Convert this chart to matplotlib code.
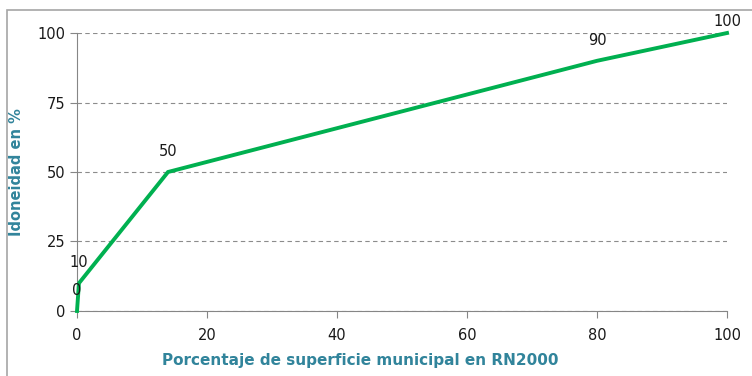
import matplotlib
matplotlib.use("Agg")
import matplotlib.pyplot as plt
from matplotlib.patches import Rectangle

# porcentaje de superficie municipal en RN2000 -> idoneidad (%)
pct_surface = [0, 0.3, 14, 80, 100]
suitability = [0, 10, 50, 90, 100]
point_labels = ["0", "10", "50", "90", "100"]
x_ticks = [0, 20, 40, 60, 80, 100]
y_ticks = [0, 25, 50, 75, 100]

GREEN = "#00b050"
TEAL = "#31849b"
GREY = "#868686"

fig = plt.figure(figsize=(7.52, 3.76), dpi=100)
ax = fig.add_axes([0.1024, 0.1729, 0.8644, 0.7393])

# chart-area frame like the spreadsheet export
fig.patches.append(Rectangle((7 / 752, -0.05), 1.0, 1 - 10 / 376 + 0.05,
                             transform=fig.transFigure, fill=False,
                             ec="#a6a6a6", lw=1.2))

ax.plot(pct_surface, suitability, color=GREEN, lw=2.8, solid_joinstyle="miter",
        zorder=3, clip_on=False)
offsets = [(0, 9), (0, 9.5), (0, 9.5), (0, 9), (0, 3)]
for x, y, lab, off in zip(pct_surface, suitability, point_labels, offsets):
    ax.annotate(lab, (x, y), xytext=off, textcoords="offset points",
                ha="center", va="bottom", fontsize=10.5, color="#1a1a1a")

ax.set_xlim(0, 100)
ax.set_ylim(0, 100)
ax.set_xticks(x_ticks)
ax.set_yticks(y_ticks)
ax.grid(axis="y", ls=(0, (4, 3)), color="#8c8c8c", lw=0.8)
ax.set_axisbelow(True)
for s in ("top", "right"):
    ax.spines[s].set_visible(False)
for s in ("left", "bottom"):
    ax.spines[s].set_color(GREY)
ax.tick_params(colors=GREY, labelcolor="#1a1a1a", labelsize=10.5, length=5)
ax.tick_params(axis="x", pad=7)

ax.set_xlabel("Porcentaje de superficie municipal en RN2000", color=TEAL,
              fontsize=11, fontweight="bold")
ax.xaxis.set_label_coords(0.435, -0.15)
ax.set_ylabel("Idoneidad en %", color=TEAL, fontsize=10.5, fontweight="bold")
ax.yaxis.set_label_coords(-0.082, 0.5)

fig.savefig("out.png", dpi=100)
